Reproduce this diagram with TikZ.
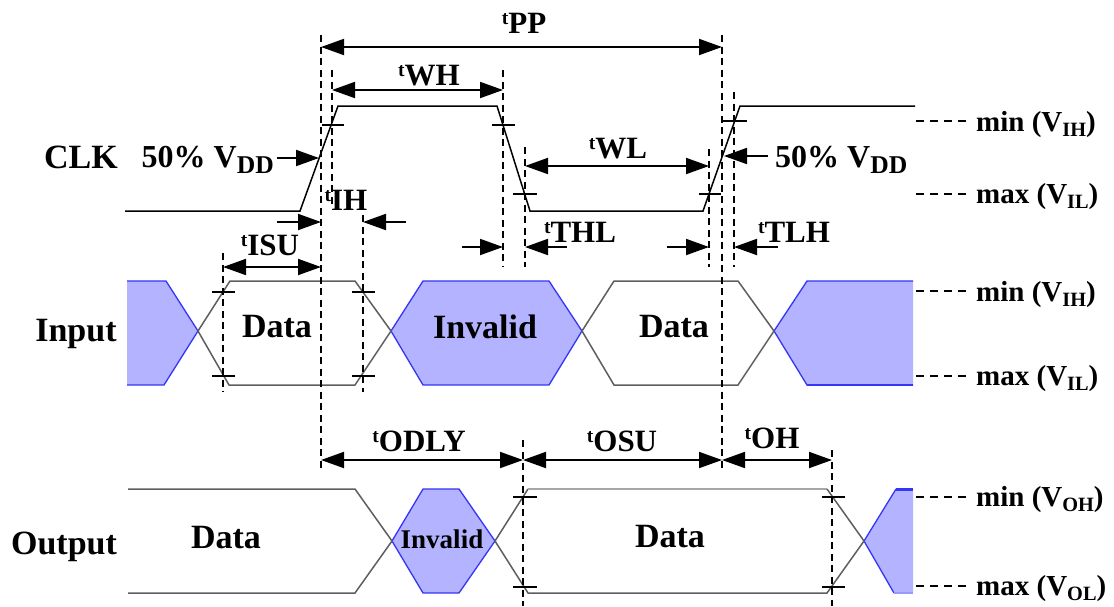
\documentclass[tikz,border=0pt]{standalone}
\usepackage{fontspec}
\setmainfont{Liberation Serif}
\usepackage{graphicx}
\usetikzlibrary{arrows.meta}
\definecolor{invfill}{HTML}{B3B3FF}
\definecolor{invline}{HTML}{3535F5}
\definecolor{wave}{HTML}{5E5E5E}
\newcommand{\tlab}[1]{\raisebox{0.27em}{\scalebox{0.63}{t}}#1}
\newcommand{\vsub}[2]{V\raisebox{-0.2em}{\scalebox{#1}{#2}}}
\tikzset{
  clkline/.style={line width=1.5pt, black, line join=miter},
  waveline/.style={line width=1.5pt, wave},
  invshape/.style={fill=invfill, draw=invline, line width=1.3pt},
  invedge/.style={draw=invline, line width=1.3pt},
  tickmark/.style={line width=1.3pt, black},
  guideline/.style={line width=1.3pt, black, dash pattern=on 7pt off 4.5pt},
  lvldash/.style={line width=2.2pt, black, dash pattern=on 8pt off 6pt},
  dimarrow/.style={line width=1.9pt, {Triangle[length=23pt,width=16pt]}-{Triangle[length=23pt,width=16pt]}},
  ptr/.style={line width=1.9pt, -{Triangle[length=23pt,width=16pt]}},
  bigtxt/.style={inner sep=0pt, font=\fontsize{34}{38}\selectfont\bfseries},
  timtxt/.style={inner sep=0pt, anchor=base, font=\fontsize{31}{35}\selectfont\bfseries},
  vddtxt/.style={inner sep=0pt, font=\fontsize{32}{36}\selectfont\bfseries},
  lvltxt/.style={inner sep=0pt, anchor=base west, font=\fontsize{29}{32}\selectfont\bfseries},
  smalltxt/.style={inner sep=0pt, font=\fontsize{27}{30}\selectfont\bfseries}
}
\begin{document}
\begin{tikzpicture}[x=1pt,y=-1pt]
\useasboundingbox (0,0) rectangle (1114,606);
\fill[white] (0,0) rectangle (1114,606);

% ---------- Input fills ----------
\fill[invfill] (127,281) -- (166,281) -- (198,331) -- (164,385) -- (127,385) -- cycle;
\draw[invedge] (127,281) -- (166,281) -- (198,331) -- (164,385) -- (127,385);
\filldraw[invshape] (391,331) -- (423,281) -- (549,281) -- (582,331) -- (549,385) -- (423,385) -- cycle;
\fill[invfill] (774,331) -- (807,281) -- (913,281) -- (913,385) -- (807,385) -- cycle;
\draw[invedge] (913,281) -- (807,281) -- (774,331) -- (807,385) -- (913,385);
\draw[invline, line width=2.6pt] (807,385) -- (913,385);

% ---------- Input data ----------
\draw[waveline] (198,331) -- (230,281) -- (355,281) -- (391,331) -- (355,385) -- (229,385) -- cycle;
\draw[waveline] (582,331) -- (614,281) -- (738,281) -- (774,331) -- (738,385) -- (614,385) -- cycle;

% ---------- Output ----------
\filldraw[invshape] (392,541) -- (423,489) -- (459,489) -- (495,541) -- (459,593) -- (423,593) -- cycle;
\fill[invfill] (864,541) -- (896,489) -- (913,489) -- (913,593) -- (894,593) -- cycle;
\draw[invedge] (896,489) -- (864,541) -- (894,593);
\draw[invline, line width=3pt] (896,489) -- (913,489);
\draw[invline!50, line width=1.5pt] (894,593) -- (913,593);
\draw[waveline] (128,489) -- (355,489) -- (392,541);
\draw[waveline] (128,593) -- (355,593) -- (392,541);
\draw[waveline] (495,541) -- (528,489);
\draw[line width=2.2pt, gray!70] (528,489) -- (827,489);
\draw[waveline] (827,489) -- (864,541);
\draw[waveline] (495,541) -- (528,593) -- (827,593) -- (864,541);

% ---------- CLK ----------
\draw[clkline] (125,211) -- (300,211) -- (338,106) -- (497,106) -- (530,211) -- (703,211) -- (740,106) -- (915,106);

% ---------- guide lines ----------
\draw[guideline] (321,35) -- (321,472);
\draw[guideline] (332,70) -- (332,207);
\draw[guideline] (503,70) -- (503,267);
\draw[guideline] (525,147) -- (525,267);
\draw[guideline] (709,149) -- (709,267);
\draw[guideline] (722,35) -- (722,472);
\draw[guideline] (734,92) -- (734,267);
\draw[guideline] (223,253) -- (223,392);
\draw[guideline] (363,215) -- (363,392);
\draw[guideline] (523,440) -- (523,606);
\draw[guideline] (832,450) -- (832,606);

% ---------- ticks ----------
\draw[tickmark] (322,125) -- (344,125);
\draw[tickmark] (492,125) -- (515,125);
\draw[tickmark] (513,194) -- (537,194);
\draw[tickmark] (699,194) -- (721,194);
\draw[tickmark] (723,121) -- (747,121);
\draw[tickmark] (212,292) -- (235,292);
\draw[tickmark] (352,292) -- (375,292);
\draw[tickmark] (212,376) -- (235,376);
\draw[tickmark] (352,376) -- (375,376);
\draw[tickmark] (513,497) -- (537,497);
\draw[tickmark] (822,497) -- (845,497);
\draw[tickmark] (513,587) -- (537,587);
\draw[tickmark] (822,587) -- (845,587);

% ---------- level dashes ----------
\draw[lvldash] (916,121) -- (966,121);
\draw[lvldash] (916,194) -- (966,194);
\draw[lvldash] (916,291) -- (966,291);
\draw[lvldash] (916,376) -- (966,376);
\draw[lvldash] (916,497) -- (966,497);
\draw[lvldash] (916,586) -- (966,586);

% ---------- dimension arrows ----------
\coordinate (ppL) at (321,47);   \coordinate (ppR) at (722,47);
\coordinate (whL) at (332,90);   \coordinate (whR) at (503,90);
\coordinate (wlL) at (525,166);  \coordinate (wlR) at (709,166);
\coordinate (suL) at (223,267);  \coordinate (suR) at (321,267);
\coordinate (odL) at (321,460);  \coordinate (odR) at (523,460);
\coordinate (osR) at (722,460);  \coordinate (ohR) at (832,460);
\draw[dimarrow] (ppL) -- (ppR);
\draw[dimarrow] (whL) -- (whR);
\draw[dimarrow] (wlL) -- (wlR);
\draw[dimarrow] (suL) -- (suR);
\draw[dimarrow] (odL) -- (odR);
\draw[dimarrow] (odR) -- (osR);
\draw[dimarrow] (osR) -- (ohR);

\coordinate (vlS) at (277,158);  \coordinate (vlE) at (319,158);
\coordinate (vrS) at (768,156);  \coordinate (vrE) at (724,156);
\coordinate (ihaS) at (277,222); \coordinate (ihaE) at (321,222);
\coordinate (ihbS) at (406,222); \coordinate (ihbE) at (363,222);
\coordinate (thaS) at (462,247); \coordinate (thaE) at (503,247);
\coordinate (thbS) at (567,247); \coordinate (thbE) at (525,247);
\coordinate (tlaS) at (667,247); \coordinate (tlaE) at (709,247);
\coordinate (tlbS) at (778,247); \coordinate (tlbE) at (734,247);
\draw[ptr] (vlS) -- (vlE);
\draw[ptr] (vrS) -- (vrE);
\draw[ptr] (ihaS) -- (ihaE);
\draw[ptr] (ihbS) -- (ihbE);
\draw[ptr] (thaS) -- (thaE);
\draw[ptr] (thbS) -- (thbE);
\draw[ptr] (tlaS) -- (tlaE);
\draw[ptr] (tlbS) -- (tlbE);

% ---------- labels ----------
\node[bigtxt, anchor=base] (clk) at (81,168) {CLK};
\node[bigtxt, anchor=base] (inp) at (76,341) {Input};
\node[bigtxt, anchor=base] (outp) at (64,554) {Output};
\node[vddtxt, anchor=base east] (vddL) at (274,167) {50\% \vsub{0.8}{DD}};
\node[vddtxt, anchor=base west] (vddR) at (775,167) {50\% \vsub{0.8}{DD}};

\node[bigtxt, anchor=base] (d1) at (277,337) {Data};
\node[bigtxt, anchor=base] (inv1) at (485,338) {Invalid};
\node[bigtxt, anchor=base] (d2) at (674,337) {Data};
\node[bigtxt, anchor=base] (d3) at (226,548) {Data};
\node[smalltxt, anchor=base] (inv2) at (442,548) {Invalid};
\node[bigtxt, anchor=base] (d4) at (670,547) {Data};

\node[timtxt] (lpp) at (524,33) {\tlab{PP}};
\node[timtxt] (lwh) at (429,85) {\tlab{WH}};
\node[timtxt] (lwl) at (618,158) {\tlab{WL}};
\node[timtxt] (lih) at (346,210) {\tlab{IH}};
\node[timtxt] (lisu) at (270,255) {\tlab{ISU}};
\node[timtxt] (lthl) at (580,242) {\tlab{THL}};
\node[timtxt] (ltlh) at (794,242) {\tlab{TLH}};
\node[timtxt] (lodly) at (419,451) {\tlab{ODLY}};
\node[timtxt] (losu) at (622,451) {\tlab{OSU}};
\node[timtxt] (loh) at (772,448) {\tlab{OH}};

\node[lvltxt] (lv1) at (976,131) {min (\vsub{0.7}{IH})};
\node[lvltxt] (lv2) at (976,203) {max (\vsub{0.7}{IL})};
\node[lvltxt] (lv3) at (976,301) {min (\vsub{0.7}{IH})};
\node[lvltxt] (lv4) at (976,385) {max (\vsub{0.7}{IL})};
\node[lvltxt] (lv5) at (976,506) {min (\vsub{0.7}{OH})};
\node[lvltxt] (lv6) at (976,595) {max (\vsub{0.7}{OL})};
\end{tikzpicture}
\end{document}
